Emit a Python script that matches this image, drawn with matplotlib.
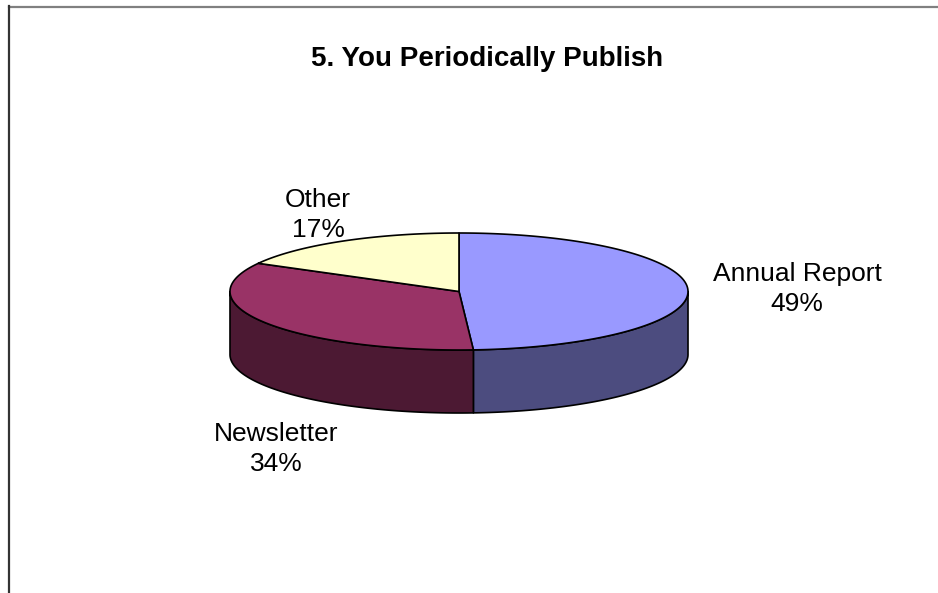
import numpy as np
import matplotlib.pyplot as plt
from matplotlib.patches import Polygon
from matplotlib.lines import Line2D

plt.rcParams['font.family'] = ['Liberation Sans', 'DejaVu Sans']

# Data
title = "5. You Periodically Publish"
categories = ["Annual Report", "Newsletter", "Other"]
values = [49, 34, 17]
top_colors = ["#9999FF", "#993366", "#FFFFCC"]
side_colors = ["#4C4C7F", "#4C1933", "#7F7F66"]

# label anchors (pixels)
label_pos = [(797, 289), (276, 449), (318, 215)]

# pie geometry in pixels
cx, cy = 459, 291.5
rx, ry = 229, 58.5
depth = 63


def ellipse_pts(a0, a1, dy=0, n=200):
    t = np.radians(np.linspace(a0, a1, n))
    return np.column_stack((cx + rx * np.sin(t), cy - ry * np.cos(t) + dy))


fig = plt.figure(figsize=(9.38, 5.93), dpi=100)
ax = fig.add_axes([0, 0, 1, 1])
ax.set_xlim(0, 938)
ax.set_ylim(593, 0)
ax.axis('off')

frac = np.array(values) / sum(values)
bounds = np.concatenate(([0], np.cumsum(frac) * 360))

# sides (front half only)
for i in range(len(values)):
    s0, s1 = max(bounds[i], 90), min(bounds[i + 1], 270)
    if s1 <= s0:
        continue
    top = ellipse_pts(s0, s1)
    bot = ellipse_pts(s0, s1, dy=depth)[::-1]
    ax.add_patch(Polygon(np.vstack((top, bot)), closed=True,
                         facecolor=side_colors[i], edgecolor='black', lw=1.2,
                         joinstyle='round'))

# top faces
for i in range(len(values)):
    arc = ellipse_pts(bounds[i], bounds[i + 1])
    pts = np.vstack(([[cx, cy]], arc))
    ax.add_patch(Polygon(pts, closed=True, facecolor=top_colors[i],
                         edgecolor='black', lw=1.2, joinstyle='round'))

# labels
for i, name in enumerate(categories):
    x, y = label_pos[i]
    ax.text(x, y, f"{name}\n{values[i]}%", ha='center', va='center',
            fontsize=19, linespacing=1.35)

ax.text(487, 58.5, title, ha='center', va='center', fontsize=20,
        fontweight='bold')

# chart frame
fig.add_artist(Line2D([9 / 938, 1], [1 - 6.8 / 593, 1 - 6.8 / 593],
                      color='#808080', lw=1.6))
fig.add_artist(Line2D([9 / 938, 9 / 938], [0, 1 - 6 / 593],
                      color='#333333', lw=1.6))

fig.savefig("out.png", dpi=100)
